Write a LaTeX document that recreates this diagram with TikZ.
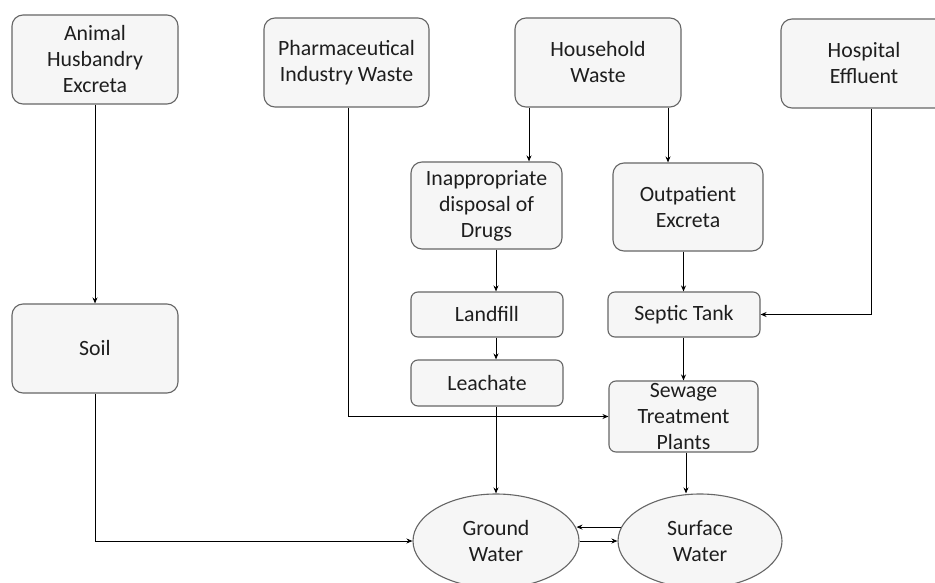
\documentclass[tikz,border=0pt]{standalone}
\usepackage{fontspec}
\setmainfont{Carlito}
\usetikzlibrary{shapes.geometric,arrows.meta}
\definecolor{boxfill}{HTML}{F6F6F6}
\definecolor{boxline}{HTML}{666666}
\definecolor{txt}{HTML}{1E1E1E}
\tikzset{
  box/.style={draw=boxline, fill=boxfill, line width=1.1pt, rounded corners=11pt,
    inner sep=0pt, align=center, text=txt,
    font=\fontsize{21.8}{26}\selectfont},
  smallbox/.style={box, rounded corners=7pt},
  water/.style={draw=boxline, fill=boxfill, line width=1.1pt, ellipse, inner sep=0pt,
    align=center, text=txt, minimum width=166pt, minimum height=94pt,
    font=\fontsize{21.8}{26}\selectfont},
  arr/.style={draw=black, line width=1pt, -{Stealth[length=6pt,width=5pt]}}
}
\begin{document}
\begin{tikzpicture}[x=1pt,y=-1pt]
\useasboundingbox (0,0) rectangle (935,583);
\fill[white] (0,0) rectangle (935,583);
\clip (0,0) rectangle (935,583);

\node[box, minimum width=166pt, minimum height=89pt] (animal) at (95,59.5) {Animal\\Husbandry\\Excreta};
\node[box, minimum width=165pt, minimum height=89pt] (pharma) at (346.5,62.5) {Pharmaceutical\\Industry Waste};
\node[box, minimum width=166pt, minimum height=89pt] (household) at (598,62.5) {Household\\Waste};
\node[box, minimum width=166pt, minimum height=89pt] (hospital) at (864,63.5) {Hospital\\Effluent};

\node[box, minimum width=151pt, minimum height=87pt] (inapp) at (486.5,205.5) {Inappropriate\\disposal of\\Drugs};
\node[box, minimum width=150pt, minimum height=88pt] (outp) at (688,207) {Outpatient\\Excreta};

\node[smallbox, minimum width=152pt, minimum height=45pt] (landfill) at (487,314.5) {Landfill};
\node[smallbox, minimum width=152pt, minimum height=45pt] (septic) at (684,314.5) {Septic Tank};
\node[smallbox, minimum width=152pt, minimum height=46pt] (leachate) at (487,383) {Leachate};
\node[smallbox, minimum width=149pt, minimum height=71pt] (sewage) at (683.5,416.5) {Sewage\\Treatment\\Plants};

\node[box, minimum width=166pt, minimum height=89pt] (soil) at (95,348.5) {Soil};

\node[water] (ground) at (496,541) {Ground\\Water};
\node[water, minimum width=164pt] (surface) at (700,541) {Surface\\Water};

% connectors
\draw[arr] (animal.south) -- (soil.north);
\draw[arr] ([xshift=1.5pt]pharma.south) |- (sewage.west);
\draw[arr] ([xshift=-69pt]household.south) -- ([xshift=-69pt]household.south |- inapp.north);
\draw[arr] ([xshift=70pt]household.south) -- ([xshift=70pt]household.south |- outp.north);
\draw[arr] ([xshift=7pt]hospital.south) |- (septic.east);
\draw[arr] (inapp.south -| ground.north) -- (landfill.north -| ground.north);
\draw[arr] (landfill.south -| ground.north) -- (leachate.north -| ground.north);
\draw[arr] (leachate.south -| ground.north) -- (ground.north);
\draw[arr] (outp.south -| sewage.north) -- (septic.north -| sewage.north);
\draw[arr] (septic.south -| sewage.north) -- (sewage.north);
\draw[arr] ([xshift=2.5pt]sewage.south) -- ([xshift=2.5pt]sewage.south |- surface.north);
\draw[arr] (soil.south) |- (ground.west);
\draw[arr] (surface.170) -- (ground.9 |- surface.170);
\draw[arr] (ground.east) -- (surface.west);
\end{tikzpicture}
\end{document}
